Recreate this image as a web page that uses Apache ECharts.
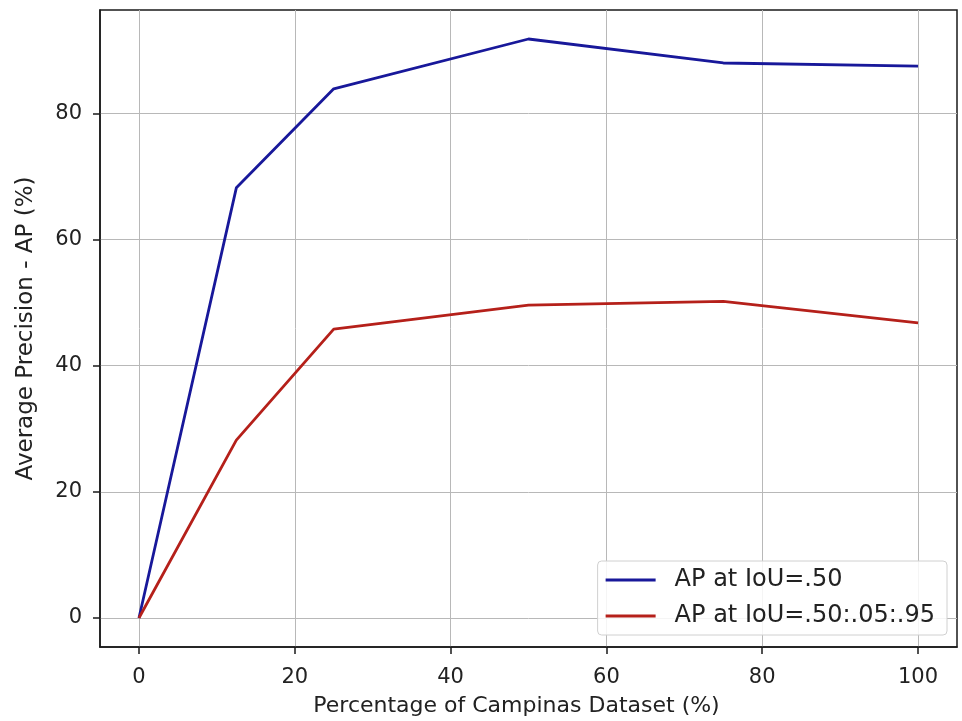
<!doctype html>
<html lang="en">
<head>
	<meta charset="UTF-8">
	<title>AP vs Campinas Dataset</title>
	<script src="https://cdn.jsdelivr.net/npm/echarts@6/dist/echarts.min.js"></script>
	<style>
		html, body { margin: 0; padding: 0; background: #fff; }
		#chart { width: 962px; height: 721px; }
	</style>
</head>
<body>
	<div id="chart"></div>
	<script>
		// data
		var percentages = [0, 12.5, 25, 50, 75, 100];
		var ap50 = [0, 68.2, 83.9, 91.8, 88.0, 87.5];
		var ap5095 = [0, 28.2, 45.8, 49.6, 50.2, 46.8];
		var xTicks = [0, 20, 40, 60, 80, 100];
		var yTicks = [0, 20, 40, 60, 80];
		var seriesNames = ['AP at IoU=.50', 'AP at IoU=.50:.05:.95'];
		var seriesColors = ['#18189a', '#b5201a'];

		function pairs(xs, ys) {
			return xs.map(function (x, i) { return [x, ys[i]]; });
		}

		var font = 'DejaVu Sans';
		var chart = echarts.init(document.getElementById('chart'));

		var option = {
			animation: false,
			textStyle: { fontFamily: font },
			grid: {
				left: 100, right: 5, top: 10, bottom: 74,
				outerBoundsMode: 'none',
				containLabel: false,
				show: true, borderColor: '#1a1a1a', borderWidth: 1.5
			},
			legend: {
				orient: 'vertical',
				right: 15, bottom: 86,
				icon: 'rect',
				itemWidth: 50, itemHeight: 3, itemGap: 12,
				padding: [7, 12, 7, 8],
				backgroundColor: 'rgba(255,255,255,0.85)',
				borderColor: '#d0d0d0', borderWidth: 1, borderRadius: 4,
				textStyle: { fontFamily: font, fontSize: 24, color: '#222', padding: [0, 0, 0, 14] },
				data: seriesNames
			},
			xAxis: {
				type: 'value', min: -5, max: 105,
				name: 'Percentage of Campinas Dataset (%)',
				nameLocation: 'middle', nameGap: 48,
				nameTextStyle: { fontFamily: font, fontSize: 22, color: '#222', padding: [0, 24, 0, 0] },
				axisLine: { show: true, onZero: false, lineStyle: { color: '#1a1a1a', width: 1.5 } },
				axisTick: { show: true, length: 7, customValues: xTicks, lineStyle: { color: '#1a1a1a', width: 1.5 } },
				axisLabel: { customValues: xTicks, fontFamily: font, fontSize: 21, color: '#222', margin: 20 },
				splitLine: { show: true, lineStyle: { color: '#b8b8b8', width: 1 } }
			},
			yAxis: {
				type: 'value', min: -4.6, max: 96.4,
				name: 'Average Precision - AP (%)',
				nameLocation: 'middle', nameGap: 62,
				nameTextStyle: { fontFamily: font, fontSize: 23, color: '#222' },
				axisLine: { show: true, onZero: false, lineStyle: { color: '#1a1a1a', width: 1.5 } },
				axisTick: { show: true, length: 7, customValues: yTicks, lineStyle: { color: '#1a1a1a', width: 1.5 } },
				axisLabel: { customValues: yTicks, fontFamily: font, fontSize: 21, color: '#222', margin: 18 },
				splitLine: { show: true, lineStyle: { color: '#b8b8b8', width: 1 } }
			},
			series: [
				{
					name: seriesNames[0],
					type: 'line',
					symbol: 'none',
					lineStyle: { color: seriesColors[0], width: 2.8 },
					itemStyle: { color: seriesColors[0] },
					data: pairs(percentages, ap50)
				},
				{
					name: seriesNames[1],
					type: 'line',
					symbol: 'none',
					lineStyle: { color: seriesColors[1], width: 2.8 },
					itemStyle: { color: seriesColors[1] },
					data: pairs(percentages, ap5095)
				}
			]
		};

		chart.setOption(option);
	</script>
</body>
</html>
